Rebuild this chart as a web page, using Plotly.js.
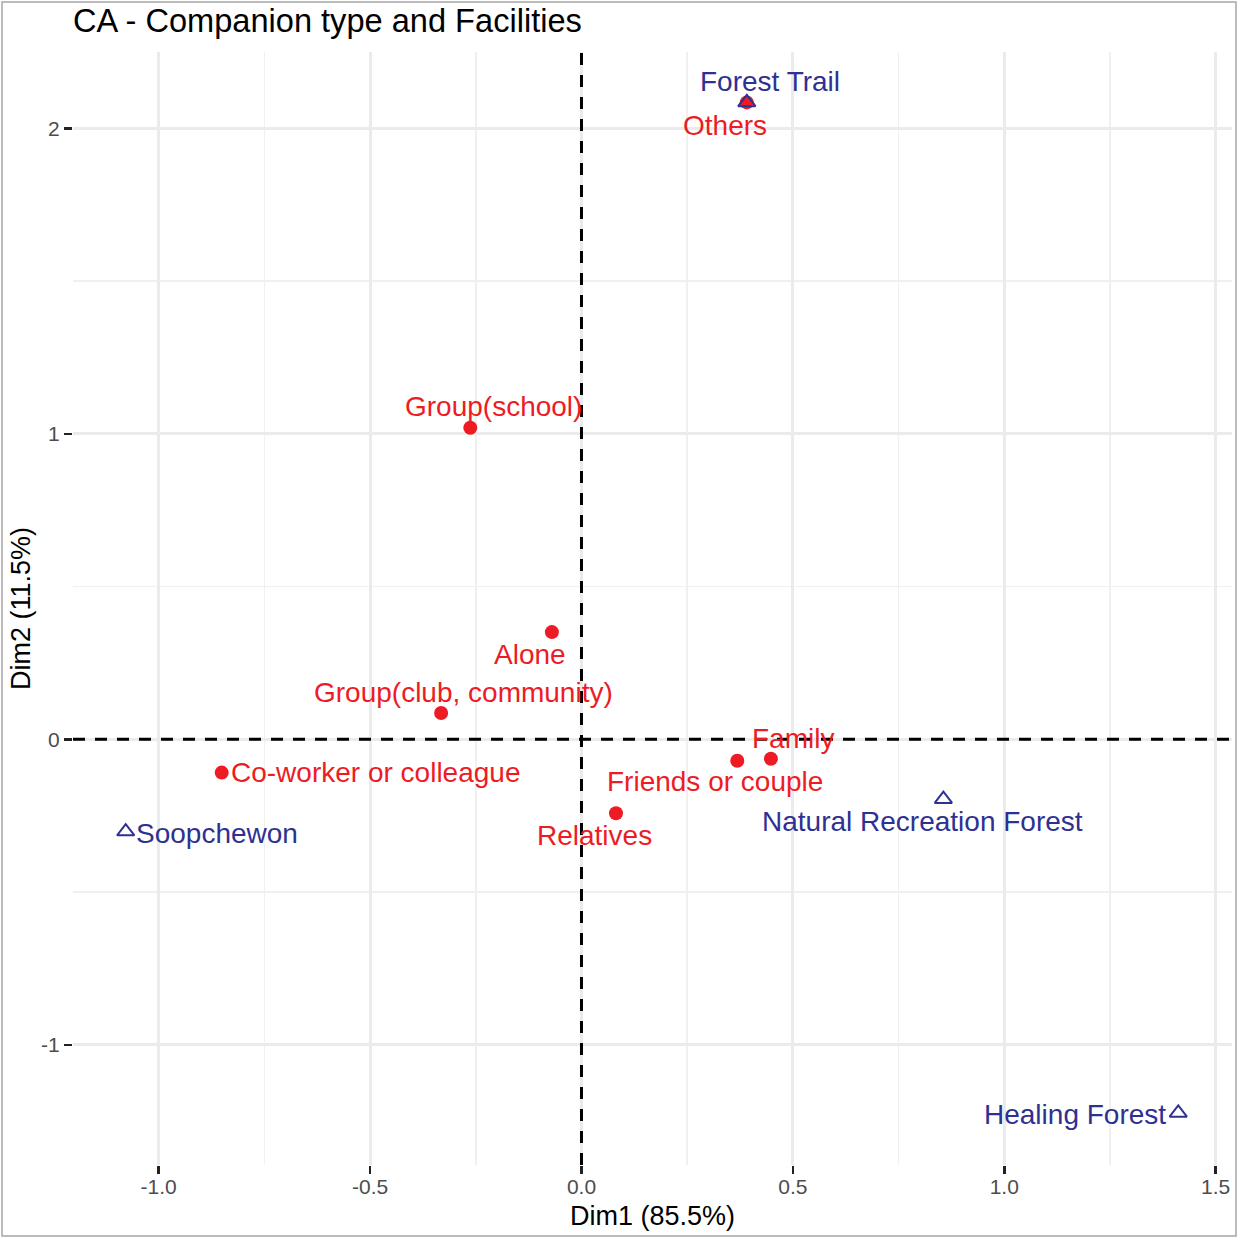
<!DOCTYPE html>
<html>
<head>
<meta charset="utf-8">
<script src="https://cdn.plot.ly/plotly-3.0.1.min.js"></script>
<style>html,body{margin:0;padding:0;background:#fff;}#chart{width:1239px;height:1239px;}</style>
</head>
<body>
<div id="chart"></div>
<script>
// Row categories (companion type) - red points
const rowNames = ["Group(school)", "Alone", "Group(club, community)", "Co-worker or colleague", "Friends or couple", "Family", "Relatives", "Others"];
const rowDim1 = [-0.263, -0.070, -0.332, -0.851, 0.3685, 0.448, 0.0816, 0.391];
const rowDim2 = [1.020, 0.351, 0.086, -0.109, -0.070, -0.0635, -0.242, 2.085];

// Column categories (facilities) - blue triangles
const colNames = ["Forest Trail", "Natural Recreation Forest", "Soopchewon", "Healing Forest"];
const colDim1 = [0.391, 0.856, -1.078, 1.4115];
const colDim2 = [2.085, -0.196, -0.302, -1.223];

// Tick labels
const xTickVals = [-1.0, -0.5, 0.0, 0.5, 1.0, 1.5];
const xTickText = ["-1.0", "-0.5", "0.0", "0.5", "1.0", "1.5"];
const yTickVals = [-1, 0, 1, 2];
const yTickText = ["-1", "0", "1", "2"];

// Label placement (repelled labels), in pixels: [dx, dyDown, anchor]
const rowLabelNudge = [[23, -21, "center"], [-22, 22, "center"], [22.5, -21, "center"], [7.5, 0, "left"], [-22.3, 21, "center"], [22, -20.4, "center"], [-21, 22, "center"], [-21.7, 22.7, "center"]];
const colLabelNudge = [[23.3, -20.6, "center"], [-21.3, 22.4, "center"], [8.5, 1.6, "left"], [-10, 2, "right"]];

const RED = "#ED1C24";
const BLUE = "#2E3192";
const FONT = "Liberation Sans, Arial, sans-serif";

const W = 1239, H = 1239;
const mL = 73, mR = 7, mT = 52, mB = 74;
const pw = W - mL - mR, ph = H - mT - mB;
function px2paperX(px) { return (px - mL) / pw; }
function px2paperY(py) { return (H - mB - py) / ph; }

const xRange = [-1.2027, 1.5386];
const yRange = [-1.3935, 2.250];

const traces = [
  {
    type: "scatter", mode: "markers", x: rowDim1, y: rowDim2, text: rowNames,
    marker: {color: RED, size: 14, symbol: "circle"}, hoverinfo: "text", showlegend: false
  },
  {
    type: "scatter", mode: "markers", x: colDim1, y: colDim2, text: colNames,
    marker: {color: BLUE, size: 15, symbol: "triangle-up-open", line: {color: BLUE, width: 2}}, hoverinfo: "text", showlegend: false
  }
];

const annotations = [];
function addLabels(names, xs, ys, nudges, color) {
  names.forEach((n, i) => {
    const nd = nudges[i];
    annotations.push({
      x: xs[i], y: ys[i], xref: "x", yref: "y", text: n, showarrow: false,
      xanchor: nd[2], yanchor: "middle", xshift: nd[0], yshift: -nd[1],
      font: {family: FONT, size: 28, color: color}
    });
  });
}
addLabels(rowNames, rowDim1, rowDim2, rowLabelNudge, RED);
addLabels(colNames, colDim1, colDim2, colLabelNudge, BLUE);

const layout = {
  width: W, height: H,
  margin: {l: mL, r: mR, t: mT, b: mB, pad: 0},
  paper_bgcolor: "#ffffff", plot_bgcolor: "#ffffff",
  font: {family: FONT, color: "#000000"},
  title: {
    text: "CA - Companion type and Facilities",
    font: {family: FONT, size: 32.6, color: "#000000"},
    x: 0, xref: "paper", xanchor: "left",
    y: 1 - 21 / H, yref: "container", yanchor: "middle"
  },
  xaxis: {
    range: xRange, autorange: false,
    tickvals: xTickVals, ticktext: xTickText,
    ticks: "outside", ticklen: 8, tickwidth: 2.5, tickcolor: "#222222",
    tickfont: {family: FONT, size: 21, color: "#4d4d4d"},
    ticklabelstandoff: -5,
    showgrid: true, gridcolor: "#ebebeb", gridwidth: 3,
    minor: {dtick: 0.25, tick0: 0.25, showgrid: true, gridcolor: "#f0f0f0", gridwidth: 1.5, ticks: ""},
    zeroline: false, showline: false,
    title: {text: "Dim1 (85.5%)", font: {family: FONT, size: 27, color: "#000000"}, standoff: 8},
    automargin: false
  },
  yaxis: {
    range: yRange, autorange: false,
    tickvals: yTickVals, ticktext: yTickText,
    ticks: "outside", ticklen: 8, tickwidth: 2.5, tickcolor: "#222222",
    tickfont: {family: FONT, size: 21, color: "#4d4d4d"},
    showgrid: true, gridcolor: "#ebebeb", gridwidth: 3,
    minor: {dtick: 0.5, tick0: 0.5, showgrid: true, gridcolor: "#f0f0f0", gridwidth: 1.5, ticks: ""},
    zeroline: false, showline: false,
    title: {text: "Dim2 (11.5%)", font: {family: FONT, size: 27, color: "#000000"}, standoff: 2},
    automargin: false
  },
  shapes: [
    {type: "line", xref: "x", yref: "y", x0: xRange[0], x1: xRange[1], y0: 0, y1: 0, layer: "above",
     line: {color: "#000000", width: 3, dash: "12px,10px"}},
    {type: "line", xref: "x", yref: "y", x0: 0, x1: 0, y0: yRange[0], y1: yRange[1], layer: "above",
     line: {color: "#000000", width: 3, dash: "12px,10px"}},
    {type: "rect", xref: "paper", yref: "paper",
     x0: px2paperX(2), x1: px2paperX(1236), y0: px2paperY(1236), y1: px2paperY(2),
     line: {color: "#a6a6a6", width: 1.5}, fillcolor: "rgba(0,0,0,0)", layer: "above"}
  ],
  annotations: annotations
};

Plotly.newPlot("chart", traces, layout, {displayModeBar: false, staticPlot: true});
</script>
</body>
</html>
